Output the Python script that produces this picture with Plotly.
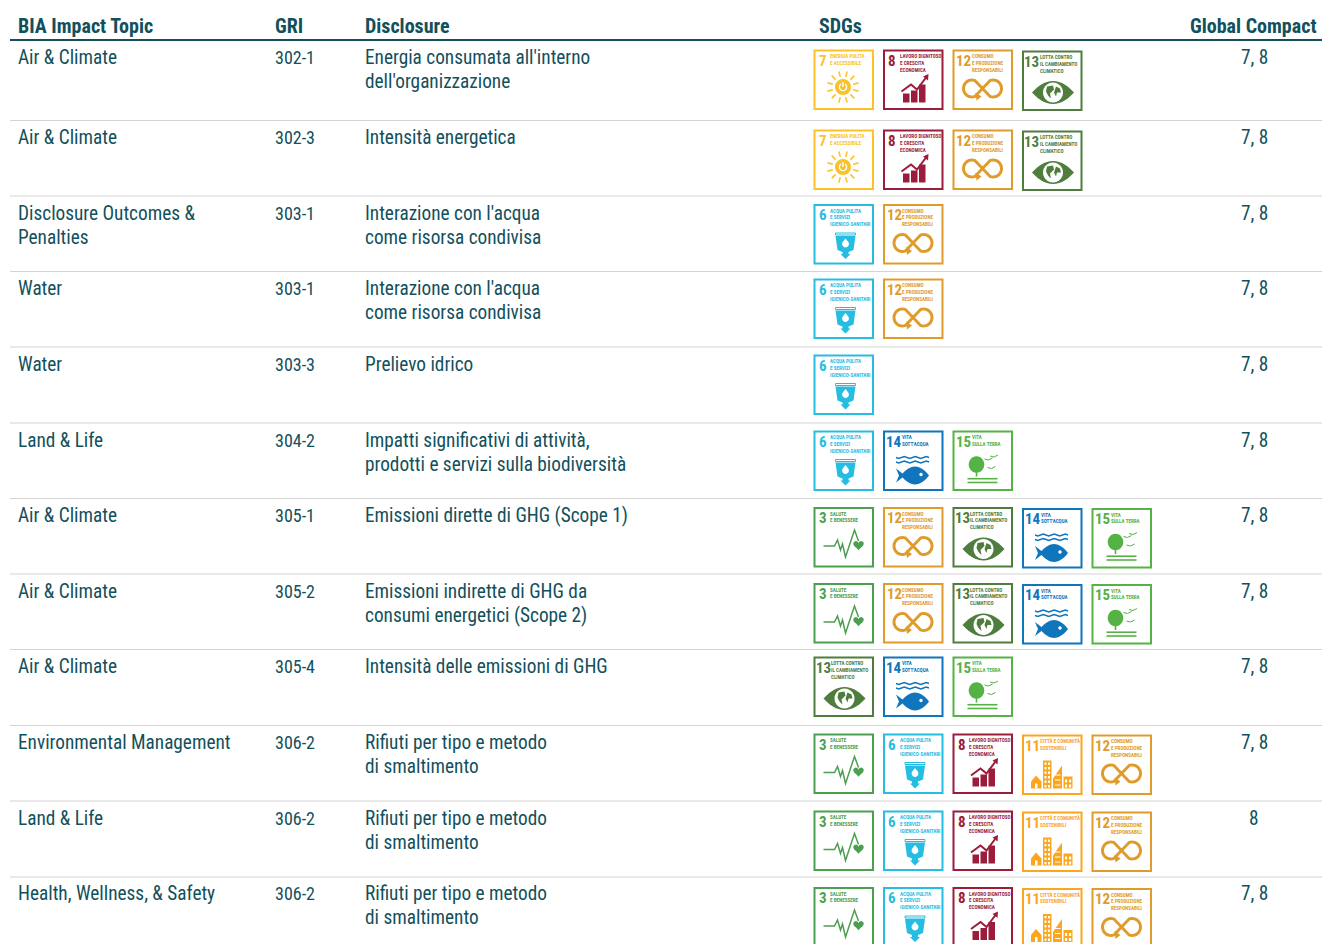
import math
import plotly.graph_objects as go

# ---- table content ----
topics = ["Air & Climate", "Air & Climate", "Disclosure Outcomes &\nPenalties", "Water", "Water", "Land & Life",
          "Air & Climate", "Air & Climate", "Air & Climate", "Environmental Management", "Land & Life",
          "Health, Wellness, & Safety"]
gri = ["302-1", "302-3", "303-1", "303-1", "303-3", "304-2", "305-1", "305-2", "305-4", "306-2", "306-2", "306-2"]
disclosures = ["Energia consumata all'interno\ndell'organizzazione", "Intensità energetica",
               "Interazione con l'acqua\ncome risorsa condivisa", "Interazione con l'acqua\ncome risorsa condivisa",
               "Prelievo idrico", "Impatti significativi di attività,\nprodotti e servizi sulla biodiversità",
               "Emissioni dirette di GHG (Scope 1)", "Emissioni indirette di GHG da\nconsumi energetici (Scope 2)",
               "Intensità delle emissioni di GHG", "Rifiuti per tipo e metodo\ndi smaltimento",
               "Rifiuti per tipo e metodo\ndi smaltimento", "Rifiuti per tipo e metodo\ndi smaltimento"]
sdgs = [[7, 8, 12, 13], [7, 8, 12, 13], [6, 12], [6, 12], [6], [6, 14, 15], [3, 12, 13, 14, 15], [3, 12, 13, 14, 15],
        [13, 14, 15], [3, 6, 8, 11, 12], [3, 6, 8, 11, 12], [3, 6, 8, 11, 12]]
compact = ["7, 8"] * 10 + ["8", "7, 8"]
headers = ["BIA Impact Topic", "GRI", "Disclosure", "SDGs", "Global Compact"]
sdg_labels = {3: ["SALUTE", "E BENESSERE"], 6: ["ACQUA PULITA", "E SERVIZI", "IGIENICO-SANITARI"],
              7: ["ENERGIA PULITA", "E ACCESSIBILE"], 8: ["LAVORO DIGNITOSO", "E CRESCITA", "ECONOMICA"],
              11: ["CITTÀ E COMUNITÀ", "SOSTENIBILI"], 12: ["CONSUMO", "E PRODUZIONE", "RESPONSABILI"],
              13: ["LOTTA CONTRO", "IL CAMBIAMENTO", "CLIMATICO"], 14: ["VITA", "SOTT'ACQUA"], 15: ["VITA", "SULLA TERRA"]}

# ---- style and layout constants ----
W, H = 1322, 944
INK = "#12505c"
FONT = "Roboto"
BODY = 19.3
SDG_COL = {3: "#4C9F50", 6: "#26BDE2", 7: "#FDC22A", 8: "#9B1C3B", 11: "#FBA61C", 12: "#DF9C2C", 13: "#4E7D3E",
           14: "#0F75BC", 15: "#55B244"}
TEXT_Y = [57, 137, 213, 288, 364, 440, 515, 591, 666, 742, 818, 893]
BADGE_Y = [49.5, 129.5, 204, 278.5, 354.5, 430.5, 507, 583, 656.5, 733.5, 810.5, 887]
RULE_Y = [120.5, 196, 271.5, 347, 423, 498.5, 574, 649.5, 725.5, 801, 877]
BADGE_X = [813.5, 883, 952.5, 1022, 1091.5]
NUM_X = {3: 5.7, 6: 5.7, 7: 6, 8: 5.7, 11: 3.5, 12: 4, 13: 2.8, 14: 3.3, 15: 4}
LAB_X = {3: 17, 6: 17, 7: 17, 8: 17, 11: 18.5, 12: 19.5, 13: 18, 14: 19, 15: 19.5}

shapes, ann = [], []


def text(x, y, s, size, color=INK, anchor="left", bold=False, font=FONT):
    ann.append(dict(x=x - (1.5 if anchor == "left" else 0), y=y, xref="x", yref="y", text=f"<b>{s}</b>" if bold else s,
                    showarrow=False, xanchor=anchor, yanchor="middle", align=anchor, borderpad=0,
                    font=dict(family=font, size=size, color=color)))


def path(pts, ox, oy, closed=True, fill=None, line=None, lw=0):
    d = "M" + " L".join(f"{ox + px:.2f},{oy + py:.2f}" for px, py in pts) + (" Z" if closed else "")
    shapes.append(dict(type="path", path=d, xref="x", yref="y", fillcolor=fill if fill else "rgba(0,0,0,0)",
                       line=dict(color=line if line else "rgba(0,0,0,0)", width=lw)))


def arc(cx, cy, rx, ry=None, a0=0, a1=360, n=28):
    ry = rx if ry is None else ry
    return [(cx + rx * math.cos(math.radians(a0 + (a1 - a0) * i / n)),
             cy + ry * math.sin(math.radians(a0 + (a1 - a0) * i / n))) for i in range(n + 1)]


def rect(x0, y0, x1, y1):
    return [(x0, y0), (x1, y0), (x1, y1), (x0, y1)]


def lens(cx, cy, hw, hh, n=14):
    top = [(cx + hw * (i / n * 2 - 1), cy - hh * (1 - (i / n * 2 - 1) ** 2)) for i in range(n + 1)]
    bot = [(cx + hw * (1 - i / n * 2), cy + hh * (1 - (1 - i / n * 2) ** 2)) for i in range(1, n)]
    return top + bot


def icon(n, ox, oy):
    c = SDG_COL[n]
    if n == 7:
        for k in range(12):
            a = math.radians(k * 30 + 15)
            path([(29.5 + 10.5 * math.cos(a), 37.5 + 10.5 * math.sin(a)), (29.5 + 16 * math.cos(a), 37.5 + 16 * math.sin(a))],
                 ox, oy, False, None, c, 1.6)
        path(arc(29.5, 37.5, 8), ox, oy, True, c)
        path(arc(29.5, 37.5, 3.6, a0=-55, a1=235), ox, oy, False, None, "white", 1.3)
        path([(29.5, 32.5), (29.5, 37.5)], ox, oy, False, None, "white", 1.3)
    elif n == 8:
        for b in (rect(20, 44, 26.5, 53), rect(28, 41, 34.5, 53), rect(36, 35, 42.5, 53)):
            path(b, ox, oy, True, c)
        path([(18.5, 42), (28, 35), (34, 40), (43, 28)], ox, oy, False, None, c, 2)
        path([(40, 27), (45.5, 24.5), (45, 31)], ox, oy, True, c)
    elif n == 12:
        pts = arc(40.5, 39, 8.5, 8.5, -110, 110, 22) + arc(19.5, 39, 8.5, 8.5, -70, -290, 22)
        path(pts, ox, oy, True, None, c, 3)
        path([(23, 43), (29, 47), (24, 51)], ox, oy, True, c)
    elif n == 13:
        path(lens(31, 42, 21, 11.5), ox, oy, True, c)
        path(arc(31, 42, 10), ox, oy, True, "white")
        path([(25, 36), (31, 35), (32, 39), (28, 43), (29, 48), (26, 45), (24, 41)], ox, oy, True, c)
        path([(34, 36), (38, 38), (39, 42), (35, 42), (34, 46), (32, 42)], ox, oy, True, c)
    elif n == 6:
        path(rect(22, 29, 42, 31), ox, oy, True, None, c, 1)
        path([(22, 32), (42, 32), (40, 46), (35, 48), (35, 50), (37, 50), (32, 55), (27, 50), (29, 50), (29, 48), (24, 46)],
             ox, oy, True, c)
        path([(32, 34.5)] + arc(32, 40, 3.4, a0=-30, a1=210, n=12), ox, oy, True, "white")
    elif n == 14:
        for wy in (27, 31.5):
            path([(13 + i * 2.75, wy + (0.9 if i % 4 == 1 else -0.9 if i % 4 == 3 else 0)) for i in range(13)], ox, oy,
                 False, None, c, 1.4)
        path(lens(32, 45, 14, 9), ox, oy, True, c)
        path([(22, 45), (13, 38), (16, 45), (13, 52)], ox, oy, True, c)
        path(arc(38, 44, 1.7), ox, oy, True, "white")
    elif n == 15:
        path(arc(24, 34, 7.8, 8.2), ox, oy, True, c)
        path(rect(23.2, 38, 24.8, 46), ox, oy, True, c)
        for gy in (48.2, 52):
            path(rect(15, gy - 0.8, 45, gy + 0.8), ox, oy, True, c)
        for bx, by in ((36, 28.5), (41.5, 25.5), (39, 37)):
            path([(bx - 4, by), (bx, by + 1), (bx + 4, by - 1)], ox, oy, False, None, c, 1)
    elif n == 3:
        path([(10, 39), (21, 39), (24, 33), (27, 43), (29, 37), (32, 50), (41, 23), (45, 34)], ox, oy, False, None, c, 1.5)
        heart = [(45 + 0.33 * 16 * math.sin(t) ** 3,
                  38 - 0.33 * (13 * math.cos(t) - 5 * math.cos(2 * t) - 2 * math.cos(3 * t) - math.cos(4 * t)))
                 for t in [k * math.pi / 14 for k in range(28)]]
        path(heart, ox, oy, True, c)
    elif n == 11:
        path([(14, 41), (19.5, 47), (19.5, 54), (9, 54), (9, 47)], ox, oy, True, c)
        path(rect(13, 49, 15.5, 54), ox, oy, True, "white")
        path(rect(21, 26, 29.5, 54), ox, oy, True, c)
        for wy in (28, 32.5, 37, 41.5, 46, 50.5):
            for wx in (22.5, 26):
                path(rect(wx, wy, wx + 2, wy + 2.4), ox, oy, True, "white")
        path([(40, 31), (40, 54), (31, 54), (31, 44)], ox, oy, True, c)
        for wy in (40, 45, 50):
            path(rect(33, wy, 38.5, wy + 1), ox, oy, True, "white")
        path(rect(41.5, 42, 50.5, 54), ox, oy, True, c)
        for wy in (45, 50):
            for wx in (43, 47):
                path(rect(wx, wy, wx + 2.2, wy + 3), ox, oy, True, "white")


def badge(n, ox, oy):
    c = SDG_COL[n]
    shapes.append(dict(type="rect", x0=ox + 1, x1=ox + 59.5, y0=oy + 1, y1=oy + 59.5, xref="x", yref="y",
                       fillcolor="white", line=dict(color=c, width=2)))
    icon(n, ox, oy)
    text(ox + NUM_X[n], oy + 11, str(n), 15, c, bold=True)
    for i, lab in enumerate(sdg_labels[n]):
        text(ox + LAB_X[n], oy + 6.5 + i * 6.9, lab, 5.1, c, bold=True)


for x, h, a in zip([18.5, 275.5, 365, 819.5, 1317.5], headers, ["left", "left", "left", "left", "right"]):
    text(x, 26, h, 20, INK, a, bold=True)
shapes.append(dict(type="line", x0=10, x1=1322, y0=40, y1=40, xref="x", yref="y", line=dict(color=INK, width=2.2)))
for ry in RULE_Y:
    shapes.append(dict(type="line", x0=10, x1=1322, y0=ry, y1=ry, xref="x", yref="y", line=dict(color="#d4d4d4", width=1.2)))

for i in range(len(topics)):
    for j, s in enumerate(topics[i].split("\n")):
        text(18, TEXT_Y[i] + 24 * j, s, BODY)
    text(275.5, TEXT_Y[i], gri[i], 18)
    for j, s in enumerate(disclosures[i].split("\n")):
        text(365.5, TEXT_Y[i] + 24 * j, s, BODY)
    text(1254, TEXT_Y[i], compact[i], BODY, anchor="center")
    for j, n in enumerate(sdgs[i]):
        badge(n, BADGE_X[j], BADGE_Y[i] + (1 if j >= 3 else 0))

fig = go.Figure(go.Scatter(x=[0, W], y=[0, H], mode="markers", marker=dict(opacity=0), hoverinfo="skip", showlegend=False))
fig.update_layout(width=W, height=H, margin=dict(l=0, r=0, t=0, b=0, pad=0), paper_bgcolor="white", plot_bgcolor="white",
                  showlegend=False, shapes=shapes, annotations=ann,
                  xaxis=dict(range=[0, W], visible=False, fixedrange=True),
                  yaxis=dict(range=[H, 0], visible=False, fixedrange=True))
# The narrow width of the Roboto face is selected by CSS; the relayout makes plotly measure the text again with it.
fig.write_html("out.html", config={"displayModeBar": False}, post_script="""
document.body.style.margin='0';document.documentElement.style.overflow='hidden';
var st=document.createElement('style');st.textContent='text{font-stretch:75%}';document.head.appendChild(st);
var gd=document.getElementById('{plot_id}');
var an=JSON.parse(JSON.stringify(gd.layout.annotations));
an.forEach(function(a){a.font.family='Roboto, sans-serif';});
Plotly.relayout(gd,{annotations:an});
""")
